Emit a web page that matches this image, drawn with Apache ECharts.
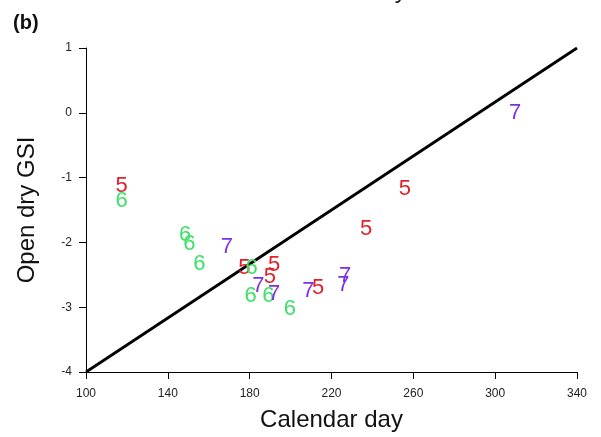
<!DOCTYPE html>
<html><head><meta charset="utf-8">
<script src="https://cdn.jsdelivr.net/npm/echarts@6/dist/echarts.min.js"></script>
<style>html,body{margin:0;padding:0;background:#fff}#c{width:601px;height:437px}</style>
</head><body><div id="c"></div>
<script>
const xTicks = [100, 140, 180, 220, 260, 300, 340];
const yTicks = [-4, -3, -2, -1, 0, 1];
const day5 = [117.4, 177.4, 189.9, 191.9, 213.5, 236.9, 255.9];
const gsi5 = [-1.13, -2.40, -2.54, -2.35, -2.71, -1.79, -1.17];
const day6 = [117.4, 148.4, 150.5, 155.4, 181.0, 180.5, 189.1, 199.7];
const gsi6 = [-1.36, -1.88, -2.02, -2.34, -2.39, -2.83, -2.83, -3.03];
const day7 = [168.8, 184.2, 191.9, 208.7, 226.6, 225.8, 309.7];
const gsi7 = [-2.07, -2.67, -2.80, -2.75, -2.51, -2.65, 0.0];
const lineX = [100, 340];
const lineY = [-4, 1];

const zip = (a, b) => a.map((v, i) => [v, b[i]]);
const font = 'Arial, "Liberation Sans", sans-serif';
function textSeries(name, xs, ys, color) {
  return {
    type: 'scatter', name: name, data: zip(xs, ys),
    symbol: 'circle', symbolSize: 1, itemStyle: {color: 'rgba(0,0,0,0)', opacity: 1},
    label: {show: true, position: 'inside', formatter: name, color: color,
      fontSize: 22, fontFamily: font, offset: [0, 2]},
    labelLayout: {hideOverlap: false},
    z: 3
  };
}
const chart = echarts.init(document.getElementById('c'), null, {renderer: 'canvas'});
chart.setOption({
  animation: false,
  backgroundColor: '#fff',
  grid: {left: 86, right: 24, top: 48, bottom: 64},
  graphic: [
    {type: 'text', left: 260, top: -21, style: {text: 'Calendar Day', font: '24px ' + font, fill: '#222'}},
    {type: 'text', left: 13, top: 13, style: {text: '(b)', font: 'bold 20px ' + font, fill: '#111'}}
  ],
  xAxis: {
    type: 'value', min: 100, max: 340, interval: 40,
    name: 'Calendar day', nameLocation: 'middle', nameGap: 36,
    nameTextStyle: {fontSize: 24, fontFamily: font, color: '#111'},
    axisLine: {show: true, onZero: false, lineStyle: {color: '#000', width: 1}},
    axisTick: {show: true, length: 7, lineStyle: {color: '#000'}},
    axisLabel: {fontSize: 12, fontFamily: font, color: '#222', margin: 16},
    splitLine: {show: false}
  },
  yAxis: {
    type: 'value', min: -4, max: 1, interval: 1,
    name: 'Open dry GSI', nameLocation: 'middle', nameGap: 47,
    nameTextStyle: {fontSize: 24, fontFamily: font, color: '#111'},
    axisLine: {show: true, onZero: false, lineStyle: {color: '#000', width: 1}},
    axisTick: {show: true, length: 7, lineStyle: {color: '#000'}},
    axisLabel: {fontSize: 12, fontFamily: font, color: '#222', margin: 14},
    splitLine: {show: false}
  },
  series: [
    {type: 'line', data: zip(lineX, lineY), symbol: 'none',
      lineStyle: {color: '#000', width: 2.8}, z: 2},
    textSeries('5', day5, gsi5, '#e3202a'),
    textSeries('6', day6, gsi6, '#3fe06a'),
    textSeries('7', day7, gsi7, '#7a30e3')
  ]
});
</script></body></html>
